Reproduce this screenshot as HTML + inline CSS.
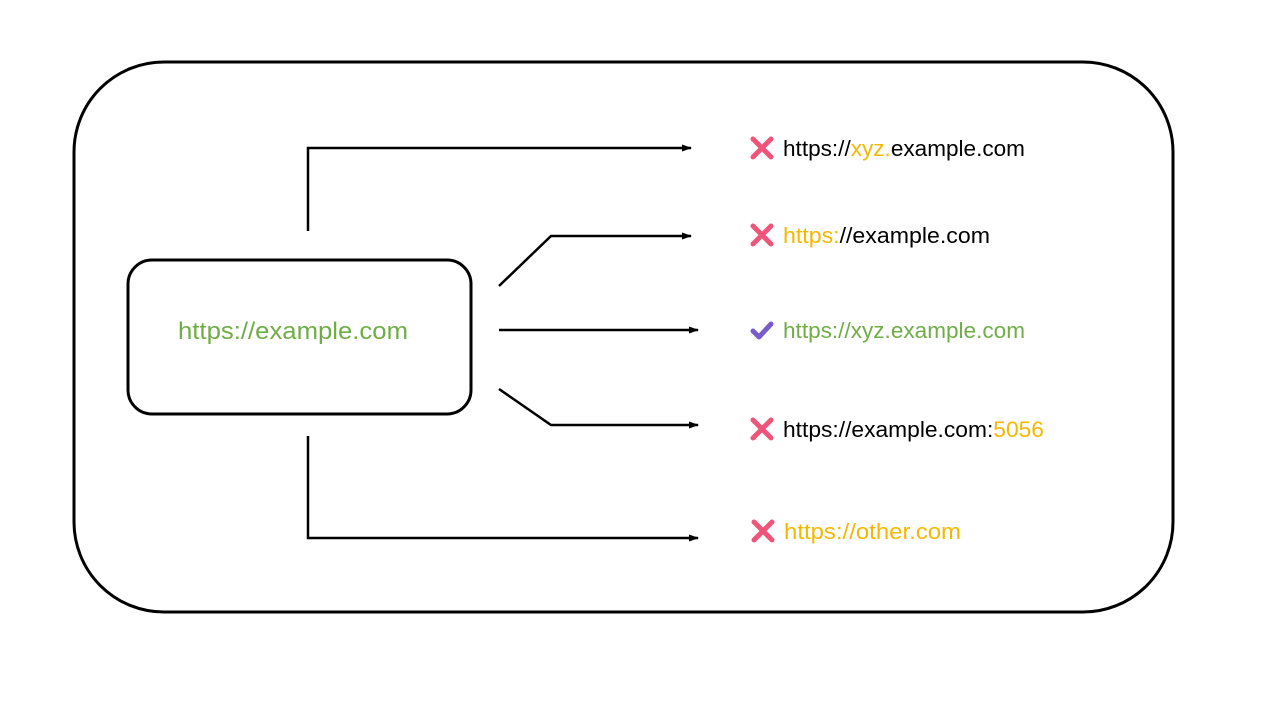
<!DOCTYPE html>
<html><head><style>body{margin:0;background:#fff}svg{display:block}</style></head><body>
<svg width="1280" height="720" viewBox="0 0 1280 720" xmlns="http://www.w3.org/2000/svg">
<defs><marker id="a" markerWidth="10" markerHeight="8" refX="9" refY="4" orient="auto" markerUnits="userSpaceOnUse"><path d="M0,0.5 L10,4 L0,7.5 Z" fill="#000"/></marker></defs>
<rect x="74" y="62" width="1099" height="550" rx="90" fill="none" stroke="#000" stroke-width="3"/>
<rect x="128" y="260" width="343" height="154" rx="24" fill="none" stroke="#000" stroke-width="3"/>
<text x="293" y="339" font-family="Liberation Sans,sans-serif" font-size="24" fill="#70ad47" text-anchor="middle" textLength="230" lengthAdjust="spacingAndGlyphs">https://example.com</text>
<g stroke="#000" stroke-width="2.5" fill="none">
<path d="M308,231 V148 H691" marker-end="url(#a)"/>
<path d="M499,286 L551,236 H691" marker-end="url(#a)"/>
<path d="M499,330 H698" marker-end="url(#a)"/>
<path d="M499,389 L551,425 H698" marker-end="url(#a)"/>
<path d="M308,436 V538 H698" marker-end="url(#a)"/>
</g>
<g stroke="#f05478" stroke-width="5" stroke-linecap="round">
<path d="M753,139 L771,157 M771,139 L753,157"/>
<path d="M753,226 L771,244 M771,226 L753,244"/>
<path d="M753,420 L771,438 M771,420 L753,438"/>
<path d="M754,522 L772,540 M772,522 L754,540"/>
</g>
<path d="M753,331 L759,337 L771,324" stroke="#7a5ccc" stroke-width="5" fill="none" stroke-linecap="round" stroke-linejoin="round"/>
<g font-family="Liberation Sans,sans-serif" font-size="22">
<text x="783" y="156" textLength="242" lengthAdjust="spacingAndGlyphs">https://<tspan fill="#f5b800">xyz.</tspan>example.com</text>
<text x="783" y="243" textLength="207" lengthAdjust="spacingAndGlyphs"><tspan fill="#f5b800">https:</tspan>//example.com</text>
<text x="783" y="338" textLength="242" lengthAdjust="spacingAndGlyphs" fill="#70ad47">https://xyz.example.com</text>
<text x="783" y="437" textLength="261" lengthAdjust="spacingAndGlyphs">https://example.com:<tspan fill="#f5b800">5056</tspan></text>
<text x="784" y="539" textLength="177" lengthAdjust="spacingAndGlyphs" fill="#f5b800">https://other.com</text>
</g>
</svg>
</body></html>
